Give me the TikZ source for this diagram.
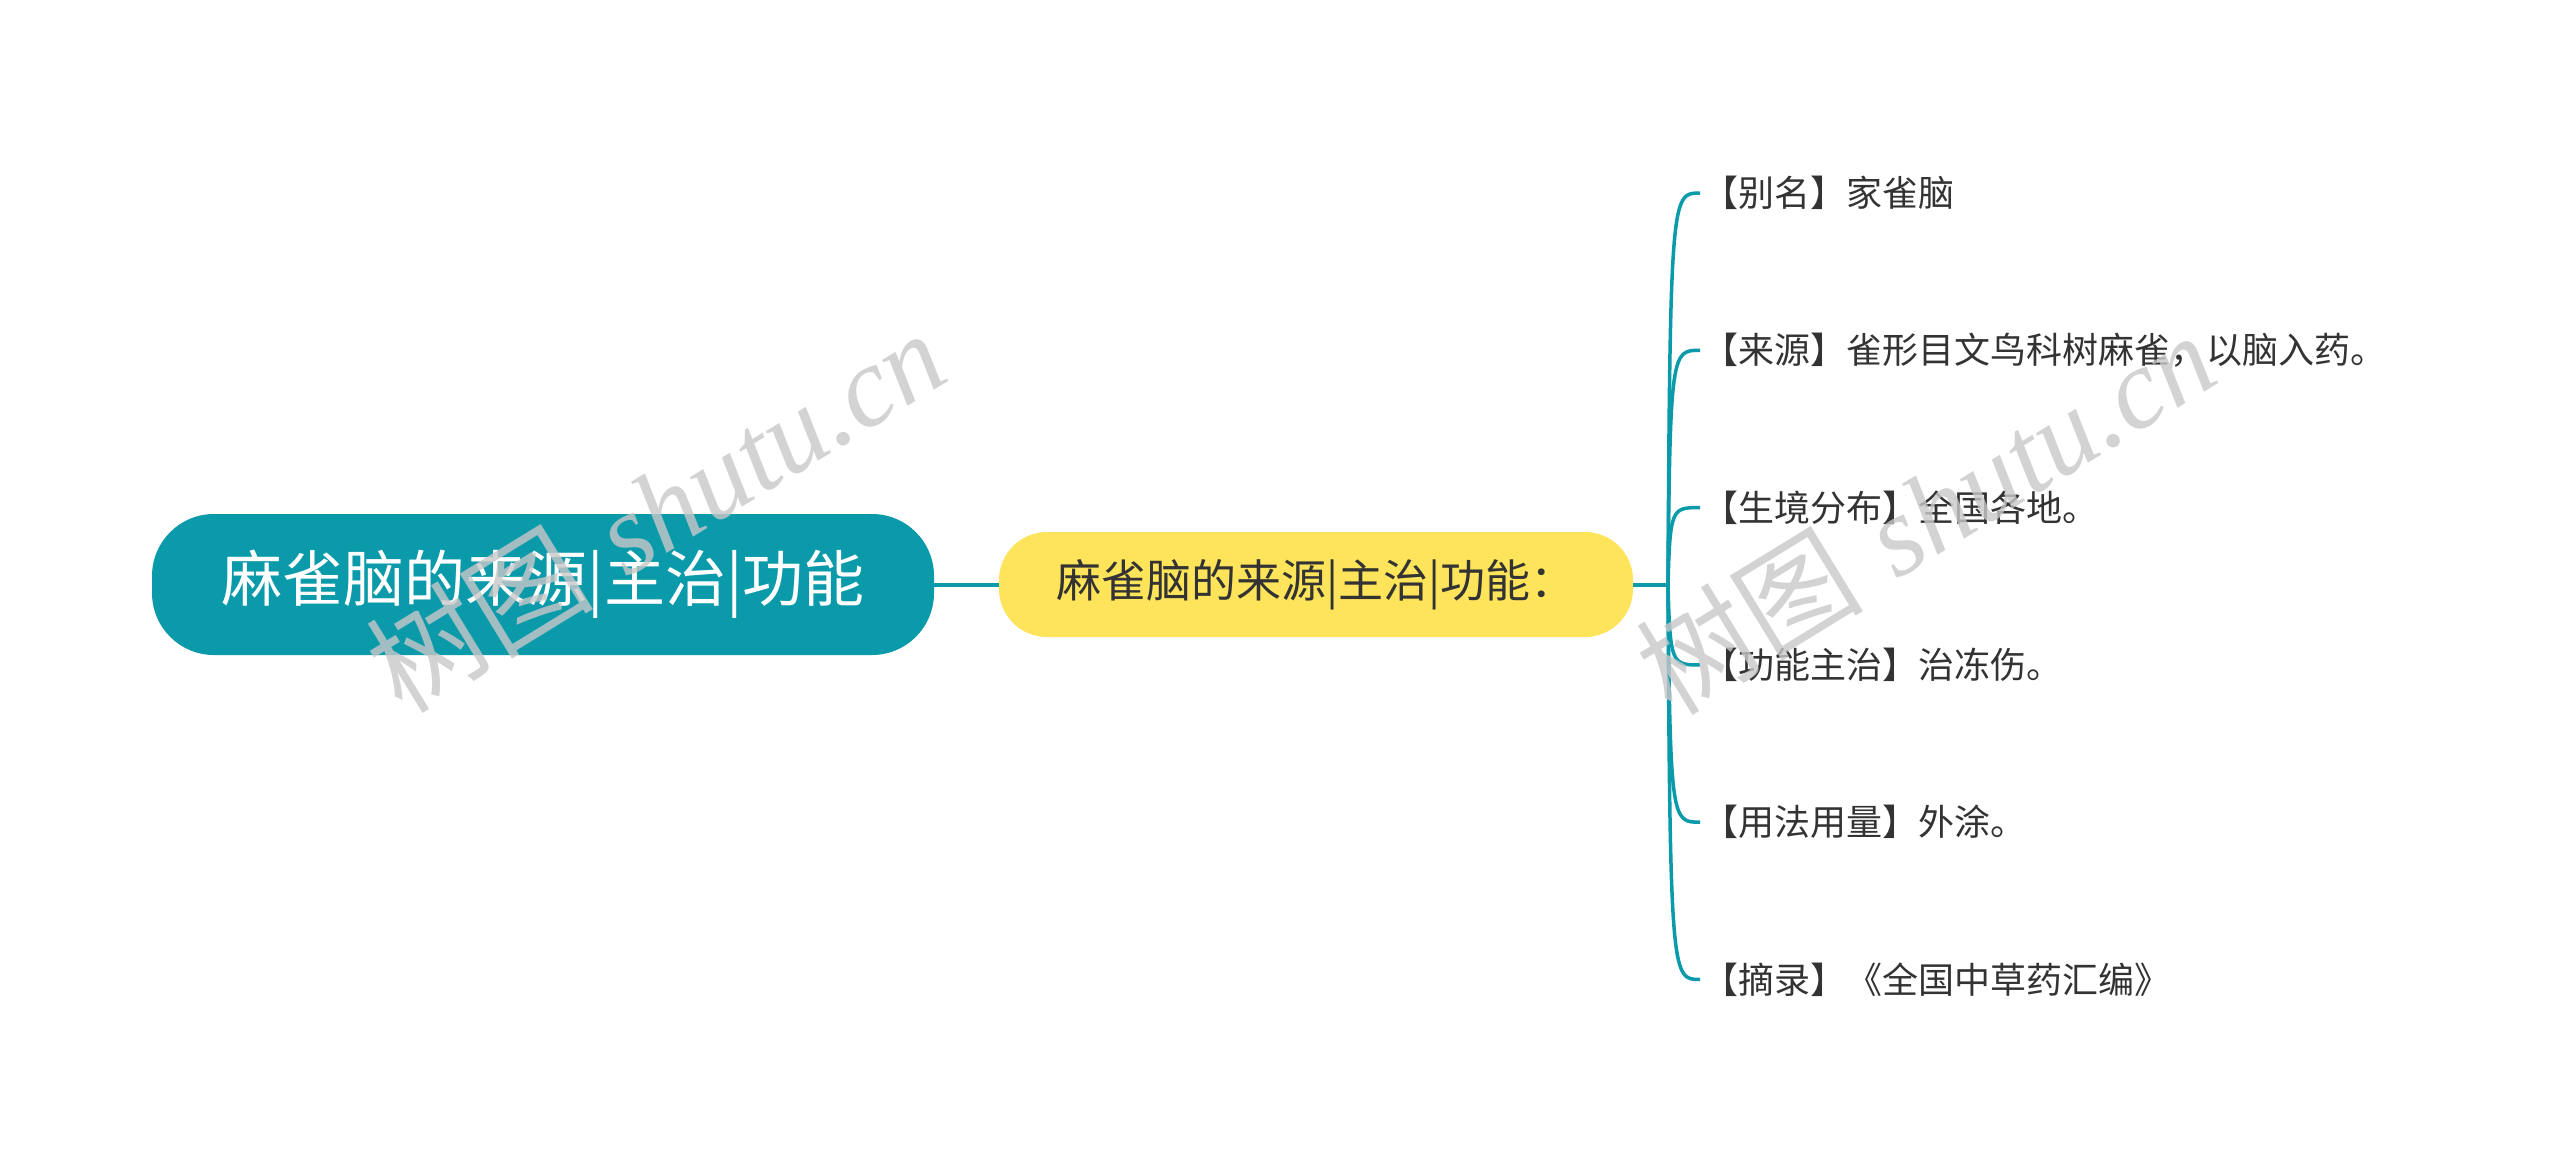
\documentclass[tikz,border=0pt]{standalone}
\usepackage{fontspec}
\newfontfamily\cjk{Noto Sans CJK SC}
\newfontfamily\wmserif{Liberation Serif}
\definecolor{teal1}{HTML}{0A9AAA}
\definecolor{yel1}{HTML}{FEE45A}
\definecolor{txt1}{HTML}{333333}
\definecolor{wm}{HTML}{C8C8C8}
\tikzset{
  rootbox/.style={fill=teal1, rounded corners=62pt, minimum width=782pt, minimum height=141pt, inner sep=0pt, text=white, font=\cjk\fontsize{61}{63}\selectfont},
  subbox/.style={fill=yel1, rounded corners=48pt, minimum width=634pt, minimum height=105pt, inner sep=0pt, text=txt1, font=\cjk\fontsize{45}{47}\selectfont},
  leaf/.style={anchor=west, inner sep=2pt, text=txt1, font=\cjk\fontsize{36}{38}\selectfont},
  conn/.style={draw=teal1, line width=4pt},
  watermark/.style={text=wm, opacity=0.8, rotate=31.5, font=\fontsize{114}{116}\selectfont}
}
\begin{document}
\begin{tikzpicture}[x=1pt,y=-1pt]
\useasboundingbox[fill=white] (0,0) rectangle (2560,1170);
\node[rootbox] (root) at (543,584.5) {麻雀脑的来源|主治|功能};
\node[subbox] (sub) at (1316,584.5) {麻雀脑的来源|主治|功能：};
\coordinate (hub) at (1668,584.5);
\draw[conn] (root.east) -- (sub.west);
\draw[conn] (sub.east) -- (hub);
\foreach \i/\t in {0/{【别名】家雀脑},1/{【来源】雀形目文鸟科树麻雀，以脑入药。},2/{【生境分布】全国各地。},3/{【功能主治】治冻伤。},4/{【用法用量】外涂。},5/{【摘录】《全国中草药汇编》}}{
  \pgfmathsetmacro{\ly}{193+157.3*\i}
  \coordinate (e\i) at (1700,\ly);
  \node[leaf] (l\i) at (e\i) {\t};
  \draw[conn, line width=3.5pt] (hub) .. controls (1670,\ly) and (1672,\ly) .. (e\i);
}
\node[watermark] (wm1) at (655,510) {{\cjk 树图} \wmserif\itshape shutu.cn};
\node[watermark] (wm2) at (1925,512) {{\cjk 树图} \wmserif\itshape shutu.cn};
\end{tikzpicture}
\end{document}
